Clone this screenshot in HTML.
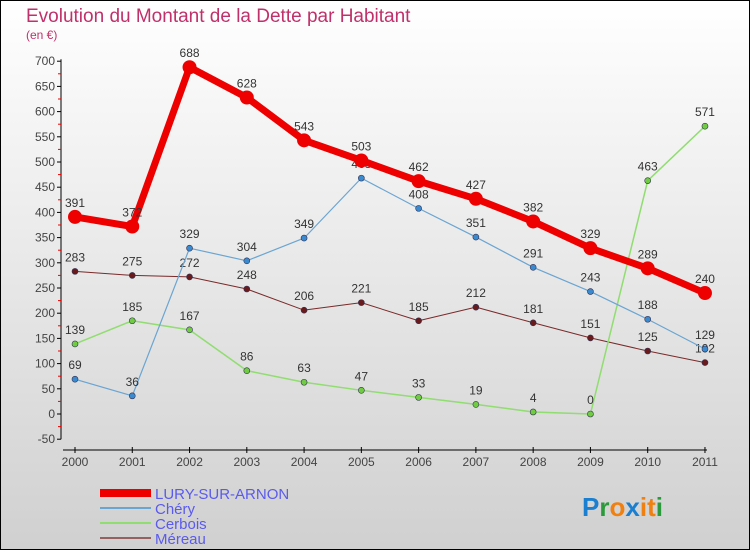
<!DOCTYPE html>
<html><head><meta charset="utf-8"><style>
body{margin:0;width:750px;height:550px;overflow:hidden}
svg{display:block;font-family:"Liberation Sans","DejaVu Sans",sans-serif}
</style></head><body>
<svg id="c" width="750" height="550">
<defs><linearGradient id="bg" x1="0" y1="0" x2="0" y2="1"><stop offset="0" stop-color="#ffffff"/><stop offset="1" stop-color="#d0d0d0"/></linearGradient></defs>
<rect x="0.5" y="0.5" width="749" height="549" fill="url(#bg)" stroke="#000"/>
<text x="26" y="22" font-size="19" fill="#c0306a">Evolution du Montant de la Dette par Habitant</text>
<text x="26" y="39" font-size="12" fill="#c0306a">(en €)</text>
<g id="axes"></g><g id="series"></g>
<g>
<rect x="100" y="489" width="51" height="8" fill="#ee0000"/>
<text x="155" y="499" font-size="15" fill="#5a5aee">LURY-SUR-ARNON</text>
<rect x="100" y="507" width="51" height="2" fill="#6aa5d2"/>
<text x="155" y="514" font-size="15" fill="#5a5aee">Chéry</text>
<rect x="100" y="522" width="51" height="2" fill="#90dd70"/>
<text x="155" y="529" font-size="15" fill="#5a5aee">Cerbois</text>
<rect x="100" y="537" width="51" height="2" fill="#956060"/>
<text x="155" y="544" font-size="15" fill="#5a5aee">Méreau</text>
</g>
<text x="582" y="516" font-size="26" font-weight="bold"><tspan fill="#1a7fd0">P</tspan><tspan fill="#2a9a3a">r</tspan><tspan fill="#f08010">o</tspan><tspan fill="#1a7fd0">x</tspan><tspan fill="#f08010">i</tspan><tspan fill="#f08010">t</tspan><tspan fill="#2a9a3a">i</tspan></text>
</svg>
<script>
const years=["2000","2001","2002","2003","2004","2005","2006","2007","2008","2009","2010","2011"];
const lury=[391,372,688,628,543,503,462,427,382,329,289,240];
const chery=[69,36,329,304,349,468,408,351,291,243,188,129];
const cerbois=[139,185,167,86,63,47,33,19,4,0,463,571];
const mereau=[283,275,272,248,206,221,185,212,181,151,125,102];
const yTicks=[-50,0,50,100,150,200,250,300,350,400,450,500,550,600,650,700];
const NS="http://www.w3.org/2000/svg";
const X=i=>75+i*57.27, Y=v=>414-v*0.504;
function mk(t,a,p){const e=document.createElementNS(NS,t);for(const k in a)e.setAttribute(k,a[k]);p.appendChild(e);return e;}
const ax=document.getElementById('axes');
let yl=mk('line',{x1:61,y1:Y(700)-2,x2:61,y2:Y(-50),stroke:'#000'},ax);


yTicks.forEach(v=>{
 let t=mk('line',{x1:57,x2:61,y1:Y(v),y2:Y(v),stroke:'#000'},ax);
 
 
 let m=mk('line',{x1:58,x2:61,y1:Y(v+25),y2:Y(v+25),stroke:'#e00'},ax);
 if(v==700)m.remove();
 let l=mk('text',{x:55,y:Y(v)+4,'font-size':12,'text-anchor':'end',fill:'#444'},ax);
 l.textContent=v;
 
 
});
let xl=mk('line',{x1:63,y1:450,x2:707,y2:450,stroke:'#000'},ax);


years.forEach((y,i)=>{
 let t=mk('line',{x1:X(i),x2:X(i),y1:447,y2:453,stroke:'#000'},ax);
 
 
 let l=mk('text',{x:X(i),y:466,'font-size':12,'text-anchor':'middle',fill:'#444'},ax);
 l.textContent=y;
 
 
});
const sg=document.getElementById('series');
function series(name,data,color,w,r,dot){
 const g=mk('g',{},sg);
 
 
 const p=mk('polyline',{points:data.map((v,i)=>X(i)+','+Y(v)).join(' '),fill:'none',stroke:color,'stroke-width':w,'stroke-linejoin':'round'},g);
 
 
 data.forEach((v,i)=>{
  const c=mk('circle',{cx:X(i),cy:Y(v),r:r,fill:dot,stroke:'#335',"stroke-width":w>3?0:0.6},g);
  
  
  const t=mk('text',{x:X(i),y:Y(v)-10,'font-size':12,'text-anchor':'middle',fill:'#333'},g);
  t.textContent=v;
  
  
 });
}
series('mereau',mereau,'#7a2a2a',1,3,'#6a1a1a');
series('cerbois',cerbois,'#90dd70',1.5,3,'#70cc40');
series('chery',chery,'#6aa5d2',1.2,3,'#3a8ad0');
series('lury',lury,'#ee0000',7,7,'#ee0000');
</script>
</body></html>
